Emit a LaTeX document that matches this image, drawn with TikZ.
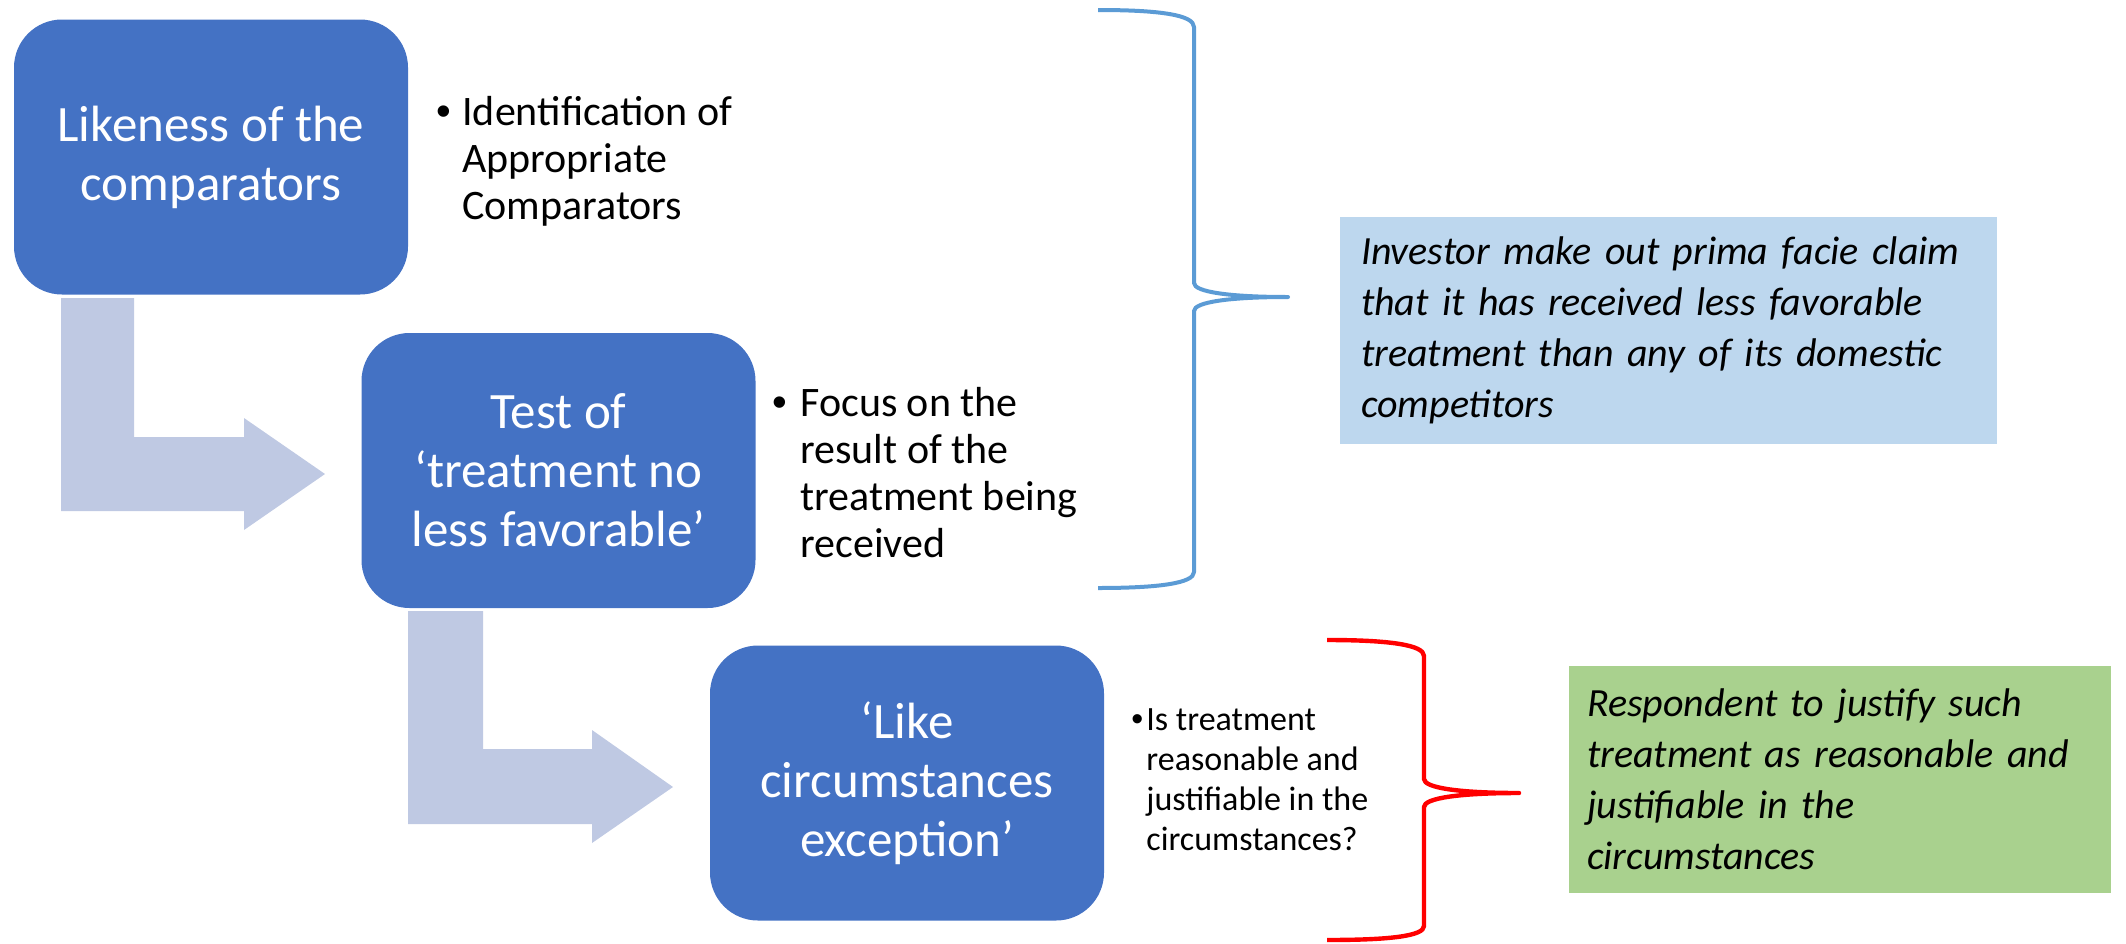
\documentclass[tikz,border=0pt]{standalone}
\usepackage{fontspec}
\setmainfont{Carlito}
\newfontfamily\bulfont{Liberation Sans}
\usepackage{xcolor}
\usepackage{tikz}

\definecolor{boxblue}{HTML}{4472C4}
\definecolor{arrowgrey}{RGB}{191,201,227}
\definecolor{claimblue}{HTML}{BDD7EE}
\definecolor{justgreen}{HTML}{A9D18E}
\definecolor{braceblue}{HTML}{5B9BD5}
\definecolor{bracered}{HTML}{FF0000}

\newcommand{\bitem}[2]{\makebox[#1][l]{\bulfont\textbullet}\begin{tabular}[t]{@{}l@{}}#2\end{tabular}}

\begin{document}
\begin{tikzpicture}[x=0.5pt,y=-0.5pt]
  \tikzstyle{blk}=[fill=boxblue,rectangle,rounded corners=24pt,minimum width=197pt,minimum height=137.5pt,align=center,text=white,inner sep=0pt,font=\fontsize{25.5}{29.5}\selectfont]
  \tikzstyle{bul}=[anchor=base west,inner sep=0pt,font=\fontsize{21}{23.5}\selectfont]
  \tikzstyle{bentarr}=[fill=arrowgrey]
  \tikzstyle{res}=[rectangle,align=left,inner ysep=0pt,minimum height=113.5pt,font=\fontsize{20}{25.5}\selectfont\itshape]
  \tikzstyle{brc}=[line width=2pt,line join=round]

  \useasboundingbox (0,0) rectangle (2126,943);

  % Bent arrows
  \fill[bentarr] (61,298) -- (134,298) -- (134,437) -- (244,437) -- (244,418) -- (325,474)
    -- (244,530) -- (244,511) -- (61,511) -- cycle;
  \fill[bentarr] (408,611) -- (483,611) -- (483,749) -- (592,749) -- (592,730) -- (673,787)
    -- (592,843) -- (592,824) -- (408,824) -- cycle;

  % Step 1
  \node[blk] (s1) at (211,157) {Likeness of the\\comparators};
  \node[bul] (s1txt) at (436,125) {\bitem{13pt}{Identification of\\Appropriate\\Comparators}};

  % Step 2
  \node[blk] (s2) at (558.5,470.5) {Test of\\‘treatment no\\less favorable’};
  \node[bul] (s2txt) at (772,416) {\bitem{14pt}{Focus on the\\result of the\\treatment being\\received}};

  % Step 3
  \node[blk] (s3) at (907,783) {‘Like\\circumstances\\exception’};
  \node[bul,font=\fontsize{17}{20}\selectfont] (s3txt) at (1131,730)
    {\bitem{7.5pt}{Is treatment\\reasonable and\\justifiable in the\\circumstances?}};

  % Braces
  \coordinate (bluetip) at (1288,297);
  \coordinate (redtip) at (1519,793);
  \draw[brc,braceblue] (1098,10) .. controls (1160,10) and (1194,15) .. (1194,27)
    -- (1194,283) .. controls (1194,292) and (1230,297) .. (bluetip)
    .. controls (1230,297) and (1194,302) .. (1194,311)
    -- (1194,572) .. controls (1194,583) and (1160,588) .. (1098,588);
  \draw[brc,bracered,line width=2.2pt] (1327,640) .. controls (1390,640) and (1424,645) .. (1424,656)
    -- (1424,779) .. controls (1424,788) and (1460,793) .. (redtip)
    .. controls (1460,793) and (1424,798) .. (1424,807)
    -- (1424,926) .. controls (1424,936) and (1390,940) .. (1327,940);

  % Outcomes
  \node[res,fill=claimblue,text width=307.5pt,inner xsep=10.5pt] (claim) at (1668.5,330.5)
    {Investor make out prima facie claim\\that it has received less favorable\\treatment than any of its domestic\\competitors};
  \node[res,fill=justgreen,text width=253pt,inner xsep=9pt] (justify) at (1840,779.5)
    {Respondent to justify such\\treatment as reasonable and\\justifiable in the\\circumstances};
\end{tikzpicture}
\end{document}
